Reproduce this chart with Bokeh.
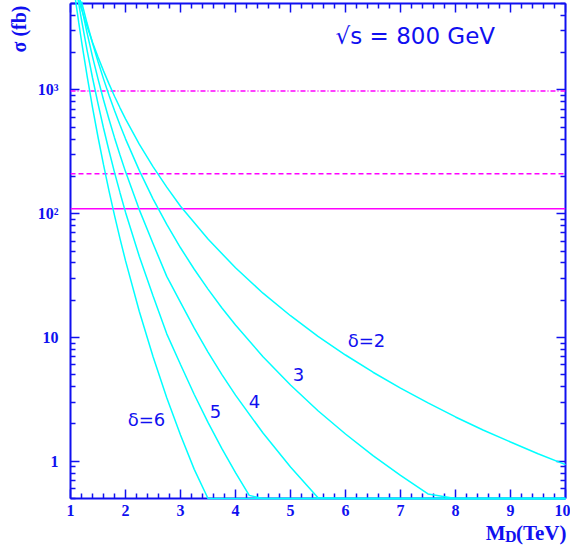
import numpy as np
from bokeh.plotting import figure
from bokeh.models import Range1d, FixedTicker, LinearAxis, LogAxis, Span, Label, Title
from bokeh.embed import file_html
from bokeh.resources import INLINE

# ---------------- data ----------------
x_d2 = [1.15, 1.2, 1.3, 1.4, 1.5, 1.6, 1.7, 1.8, 1.9, 2.0, 2.25, 2.5, 2.75, 3.0, 3.5, 4.0,
        4.5, 5.0, 5.5, 6.0, 6.5, 7.0, 7.5, 8.0, 8.5, 9.0, 9.5, 10.0]
s_d2 = [5350, 4512, 3276, 2436, 1848, 1428, 1120, 891, 718, 585, 365, 240, 164, 115, 62.4, 36.6,
        22.8, 15.0, 10.2, 7.22, 5.24, 3.90, 2.96, 2.28, 1.79, 1.43, 1.15, 0.94]

x_d3 = [1.2, 1.3, 1.4, 1.5, 1.6, 1.7, 1.8, 1.9, 2.0, 2.25, 2.5, 2.75, 3.0, 3.25, 3.5, 3.75,
        4.0, 4.5, 5.0, 5.5, 6.0, 6.5, 7.0, 7.5, 8.0, 10.0]
s_d3 = [5185, 3474, 2399, 1699, 1230, 908, 682, 521, 403, 224, 132, 82.0, 53.1, 35.6, 24.6, 17.4,
        12.6, 6.99, 4.13, 2.56, 1.66, 1.11, 0.77, 0.544, 0.394, 0.129]

x_d4 = [1.15, 1.2, 1.3, 1.4, 1.5, 1.6, 1.7, 1.8, 1.9, 2.0, 2.25, 2.5, 2.75, 3.0, 3.25, 3.5,
        3.75, 4.0, 4.5, 5.0, 5.5, 6.0, 10.0]
s_d4 = [6060, 4694, 2904, 1861, 1231, 835, 581, 412, 298, 219, 108, 57.4, 31.2, 19.2, 11.9, 7.63,
        5.04, 3.42, 1.69, 0.897, 0.506, 0.300, 0.014]

x_d5 = [1.1, 1.15, 1.2, 1.3, 1.4, 1.5, 1.6, 1.7, 1.8, 1.9, 2.0, 2.25, 2.5, 2.75, 3.0, 3.25,
        3.5, 3.75, 4.0, 4.25, 4.5, 10.0]
s_d5 = [6794, 4977, 3695, 2110, 1256, 775, 493, 323, 216, 148, 103, 45.4, 21.7, 10.7, 6.05, 3.46,
        2.06, 1.27, 0.808, 0.530, 0.354, 0.0013]

x_d6 = [1.05, 1.1, 1.15, 1.2, 1.3, 1.4, 1.5, 1.6, 1.7, 1.8, 1.9, 2.0, 2.25, 2.5, 2.75, 3.0,
        3.25, 3.5, 3.75, 10.0]
s_d6 = [7244, 4991, 3498, 2488, 1312, 725, 417, 249, 153, 97.1, 63.0, 41.8, 16.3, 7.01, 3.26, 1.63,
        0.860, 0.475, 0.274, 0.0001]

# horizontal reference levels (fb): solid, dashed, dash-dot
level_solid = 110
level_dashed = 210
level_dashdot = 980

x_major = [1, 2, 3, 4, 5, 6, 7, 8, 9, 10]
x_labels = ["1", "2", "3", "4", "5", "6", "7", "8", "9", "10"]
y_major = [1, 10, 100, 1000]
y_labels = ["1", "10", "10²", "10³"]

X_MIN, X_MAX = 1, 10
Y_MIN, Y_MAX = 0.5, 5000

BLUE = "#1010f0"
CYAN = "#00ffff"
MAGENTA = "#ff00ff"

# ---------------- figure ----------------
p = figure(width=570, height=548,
           x_range=Range1d(X_MIN, X_MAX), y_range=Range1d(Y_MIN, Y_MAX),
           y_axis_type="log", output_backend="svg", toolbar_location=None,
           min_border_left=70, min_border_right=5, min_border_top=3, min_border_bottom=50)
p.outline_line_color = None
p.xgrid.visible = False
p.ygrid.visible = False
p.background_fill_color = "white"
p.border_fill_color = "white"

x_minor = [round(v, 1) for v in np.arange(1.0, 10.001, 0.2) if abs(v - round(v)) > 1e-6]
y_minor = [k * 10.0 ** e for e in range(-1, 4) for k in range(2, 10)
           if Y_MIN <= k * 10.0 ** e <= Y_MAX and k * 10.0 ** e not in y_major]

x_ticker = FixedTicker(ticks=x_major, minor_ticks=x_minor)
y_ticker = FixedTicker(ticks=y_major, minor_ticks=y_minor)


def style_axis(ax, show_labels):
    ax.axis_line_color = BLUE
    ax.axis_line_width = 2
    ax.major_tick_line_color = BLUE
    ax.minor_tick_line_color = BLUE
    ax.major_tick_line_width = 1.5
    ax.minor_tick_line_width = 1.5
    ax.major_tick_in = 9
    ax.major_tick_out = 0
    ax.minor_tick_in = 5
    ax.minor_tick_out = 0
    ax.major_label_text_color = BLUE
    ax.major_label_text_font = "Liberation Serif"
    ax.major_label_text_font_style = "bold"
    ax.major_label_text_font_size = "16px" if show_labels else "0px"
    if not show_labels:
        ax.major_label_standoff = 0


xa = p.xaxis[0]
xa.ticker = x_ticker
xa.major_label_overrides = {t: l for t, l in zip(x_major, x_labels)}
xa.major_label_standoff = 6
style_axis(xa, True)

ya = p.yaxis[0]
ya.ticker = y_ticker
ya.major_label_overrides = {t: l for t, l in zip(y_major, y_labels)}
ya.major_label_standoff = 12
style_axis(ya, True)

top = LinearAxis(ticker=x_ticker)
top.major_label_overrides = {t: "" for t in x_major}
style_axis(top, False)
p.add_layout(top, "above")

right = LogAxis(ticker=y_ticker)
right.major_label_overrides = {t: "" for t in y_major}
style_axis(right, False)
p.add_layout(right, "right")

# horizontal levels
p.add_layout(Span(location=level_solid, dimension="width", line_color=MAGENTA, line_width=1.5))
p.add_layout(Span(location=level_dashed, dimension="width", line_color=MAGENTA, line_width=1.5,
                  line_dash="5 3"))
p.add_layout(Span(location=level_dashdot, dimension="width", line_color=MAGENTA, line_width=1.5,
                  line_dash="5 2 1 2"))

# curves (values below the frame floor are drawn on the floor, as in the original)
for xs, ss in [(x_d2, s_d2), (x_d3, s_d3), (x_d4, s_d4), (x_d5, s_d5), (x_d6, s_d6)]:
    r = p.line(xs, np.maximum(np.array(ss, dtype=float), Y_MIN), line_color=CYAN, line_width=1.5)
    r.level = "overlay"

# curve labels
curve_labels = [("δ=2", 6.04, 7.8), ("3", 5.04, 4.42), ("4", 4.24, 2.68),
                ("5", 3.53, 2.22), ("δ=6", 2.04, 1.78)]
for txt, lx, ly in curve_labels:
    p.add_layout(Label(x=lx, y=ly, text=txt, text_color=BLUE, text_font="DejaVu Sans",
                       text_font_size="18px"))

p.add_layout(Label(x=5.82, y=2150, text="√s = 800 GeV", text_color=BLUE,
                   text_font="DejaVu Sans", text_font_size="23px"))

# axis titles (as plot titles in the side panels, so they are not clipped)
ytitle = Title(text="σ (fb)", align="right", text_color=BLUE, text_font="Liberation Serif",
               text_font_style="bold", text_font_size="20px", standoff=10, offset=2)
p.add_layout(ytitle, "left")

xtitle = Title(text="M\u00a0\u00a0(TeV)", align="right", text_color=BLUE,
               text_font="Liberation Serif", text_font_style="bold", text_font_size="21px",
               standoff=0, offset=-1)
p.add_layout(xtitle, "below")

sub_d = Title(text="D", align="right", vertical_align="top", text_color=BLUE,
              text_font="Liberation Serif", text_font_style="bold", text_font_size="16px",
              offset=49)
try:
    sub_d.standoff = -34
except Exception:
    sub_d.standoff = 0
p.add_layout(sub_d, "below")

open("out.html", "w").write(file_html(p, INLINE))
